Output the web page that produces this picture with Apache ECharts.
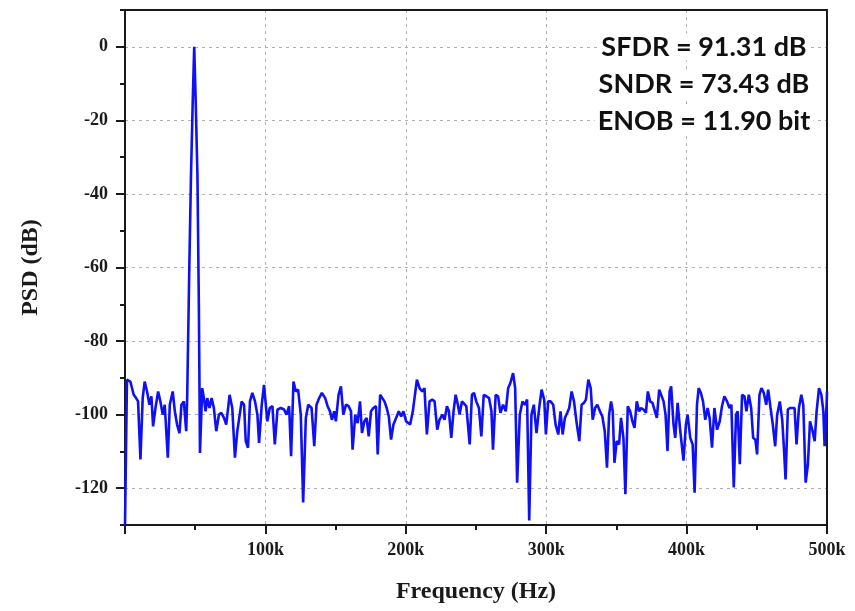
<!DOCTYPE html>
<html>
<head>
<meta charset="utf-8">
<script src="https://cdn.jsdelivr.net/npm/echarts@6/dist/echarts.min.js"></script>
<style>
html,body{margin:0;padding:0;background:#fff;}
#c{width:855px;height:611px;}
</style>
</head>
<body>
<div id="c"></div>
<script>
// Frequency in kHz
const freqK = [
0,1.4,3.8,6.2,7.9,9.3,11.0,12.6,14.0,15.7,17.4,18.8,20.0,21.7,23.6,25.2,26.9,28.3,30.5,31.9,34.0,35.5,37.1,38.8,40.2,41.9,43.6,
44.3,45.8,47.0,48.3,49.3,50.3,51.6,52.6,53.4,
55.0,56.2,57.4,58.6,60.2,61.7,63.3,65.0,66.9,68.6,70.5,72.1,74.5,76.4,78.3,80.0,81.7,83.1,84.8,86.0,87.6,89.0,90.7,92.6,94.3,95.5,97.4,99.0,
101.4,103.1,105.0,106.7,108.6,111.0,113.3,115.0,116.9,118.3,120.0,121.7,123.3,125.2,126.9,128.8,130.5,132.9,134.8,136.4,138.3,140.2,142.6,144.3,146.0,147.4,149.0,150.2,152.1,153.8,155.5,157.4,159.3,161.0,162.1,164.0,165.7,167.4,168.8,170.5,172.1,173.6,175.2,176.9,178.8,180.0,181.7,183.1,184.8,186.4,187.9,189.5,191.2,193.1,195.0,196.7,198.3,200.2,
203.1,205.0,207.9,209.8,211.7,213.3,215.0,216.9,218.8,220.5,222.4,224.0,226.0,227.6,229.3,230.7,232.4,234.0,235.5,237.1,238.3,240.0,241.4,243.1,245.5,247.1,248.6,250.2,252.1,253.8,255.5,257.4,259.3,261.0,262.1,264.0,265.7,267.4,269.3,271.2,272.9,274.5,276.4,277.9,279.3,281.2,283.1,284.8,286.4,287.9,289.5,291.2,293.1,295.0,296.7,298.6,
299.8,301.4,303.1,305.0,306.7,308.6,310.2,311.7,313.3,315.0,316.4,318.1,319.8,321.7,323.6,325.2,326.9,328.3,330.0,331.7,333.1,334.8,336.4,338.3,340.0,341.7,343.3,344.8,346.2,347.4,348.6,350.2,351.9,353.3,355.0,356.4,358.1,359.8,361.4,362.9,364.5,366.2,367.6,369.3,371.0,372.4,374.0,375.7,377.1,378.8,380.5,381.7,383.6,385.0,386.4,387.9,389.0,390.7,391.9,393.6,395.5,397.8,399.5,
400.7,402.6,404.3,405.7,407.4,408.6,410.2,411.7,413.3,415.0,416.4,418.1,419.8,421.7,423.6,425.2,426.9,428.8,430.5,431.9,433.6,435.2,436.4,437.9,439.5,441.2,442.6,444.3,446.0,447.4,449.0,450.2,451.9,453.3,455.0,456.7,458.1,459.8,461.4,463.1,464.5,466.4,468.1,469.3,470.5,472.1,473.6,475.2,476.9,478.3,480.0,481.7,483.1,484.8,486.4,487.9,489.5,491.2,492.6,494.3,496.0,497.4,498.3,499.8,500
];
// PSD in dB
const psdDb = [
-130,-90.5,-91.0,-94.6,-95.5,-96.4,-112.2,-95.5,-91.0,-93.7,-97.3,-95.0,-103.2,-98.2,-93.7,-96.4,-100,-97.3,-111.7,-97.3,-93.7,-99.1,-102.7,-105.0,-97.3,-96.4,-104.5,
-95,-60,-35,-14,0,-14,-35,-70,-110.4,
-92.8,-95.5,-99.1,-95.5,-98.2,-95.5,-98.2,-104.5,-100,-99.5,-100.9,-102.7,-94.6,-98.2,-111.7,-104.5,-100,-96.4,-97.3,-107.2,-109.0,-96.4,-94.1,-96.4,-100,-107.7,-97.3,-91.9,
-101.8,-98.2,-97.7,-108.1,-98.6,-98.2,-98.6,-100,-97.7,-111.3,-91.0,-93.7,-93.2,-100,-123.9,-100.9,-97.3,-98.2,-108.6,-97.3,-95.5,-94.1,-95.5,-97.7,-99.1,-101.4,-99.1,-101.8,-94.6,-92.3,-100,-97.3,-97.7,-99.1,-109.5,-100,-102.3,-96.4,-105.0,-101.8,-100.9,-105.9,-99.1,-98.2,-97.7,-110.8,-94.6,-94.6,-96.4,-98.2,-100.5,-106.8,-102.7,-100.9,-99.1,-100.5,-99.1,-101.8,
-102.7,-99.1,-90.5,-92.8,-93.7,-92.8,-105.4,-96.4,-95.9,-96.4,-104.1,-101.4,-100,-101.4,-97.7,-99.1,-106.3,-99.1,-94.6,-97.3,-100,-96.4,-96.8,-97.7,-108.1,-94.6,-94.1,-96.4,-98.2,-105.9,-94.6,-95.0,-95.5,-99.1,-109.5,-94.6,-95.0,-99.5,-97.3,-99.1,-92.8,-91.4,-88.7,-92.8,-118.5,-100,-96.4,-97.3,-95.9,-128.8,-100,-97.3,-105.0,-98.2,-93.2,-96.0,
-105.4,-96.4,-96.4,-97.3,-102.7,-105.4,-99.1,-105.4,-100.9,-99.5,-98.2,-93.7,-96.4,-102.3,-107.2,-97.3,-96.8,-95.9,-90.5,-92.8,-101.4,-98.2,-97.3,-99.1,-100.5,-104.5,-114.4,-100,-96.4,-99.1,-113.1,-107.2,-108.1,-100.9,-106.3,-121.6,-97.7,-99.1,-101.8,-103.6,-96.4,-99.1,-98.2,-98.6,-99.5,-93.7,-96.4,-96.8,-97.3,-100.9,-93.2,-92.8,-96.4,-100,-109.9,-93.7,-92.3,-102.7,-106.3,-96.8,-104.5,-112.5,-102.7,
-100,-106.3,-108.1,-121.2,-97.3,-92.8,-94.1,-96.4,-101.4,-98.2,-100.9,-109.0,-98.2,-104.1,-101.8,-97.7,-95.0,-96.4,-98.2,-97.3,-119.8,-100,-99.1,-113.5,-94.6,-95.0,-99.1,-94.6,-98.2,-106.3,-106.8,-110.8,-94.6,-92.8,-94.1,-97.3,-93.2,-98.2,-102.7,-108.6,-100,-96.4,-101.4,-109.0,-117.6,-98.6,-98.2,-98.2,-98.2,-108.1,-98.2,-94.6,-97.3,-118.5,-113.5,-101.8,-104.1,-107.2,-99.1,-92.8,-94.6,-99.1,-108.6,-96.4,-93.7
];
const xTickUnit = 'k';
const yMajorTicks = [-120,-100,-80,-60,-40,-20,0];
const infoLines = ['SFDR = 91.31 dB','SNDR = 73.43 dB','ENOB = 11.90 bit'];

const chart = echarts.init(document.getElementById('c'), null, {renderer:'canvas'});
const seriesData = freqK.map((f,i)=>[f, psdDb[i]]);
const serifFont = '"Liberation Serif","Times New Roman",serif';
const ink = '#1a1a1a';
const gridLine = {show:true, lineStyle:{color:'#b0b0b0', type:[3,4], width:1}};
const frameAxis = {axisLine:{show:true, onZero:false, lineStyle:{color:ink, width:2}}, axisTick:{show:false}, axisLabel:{show:false}, splitLine:{show:false}};

chart.setOption({
  animation:false,
  backgroundColor:'#fff',
  grid:{left:125, right:28, top:10, bottom:86, show:false},
  xAxis:[{
    type:'value', min:0, max:500, interval:100, position:'bottom',
    name:'Frequency (Hz)', nameLocation:'middle', nameGap:55,
    nameTextStyle:{fontFamily:serifFont, fontWeight:'bold', fontSize:24, color:ink},
    axisLine:{show:true, onZero:false, lineStyle:{color:ink, width:2}},
    axisTick:{show:true, inside:false, length:9, lineStyle:{color:ink, width:2}},
    minorTick:{show:true, splitNumber:2, length:5, lineStyle:{color:ink, width:2}},
    axisLabel:{margin:16, fontFamily:serifFont, fontWeight:'bold', fontSize:18, color:ink,
      formatter:v=> v===0 ? '' : (v + xTickUnit)},
    splitLine:gridLine,
    minorSplitLine:{show:false}
  },
  Object.assign({type:'value', min:0, max:500, position:'top'}, frameAxis)
  ],
  yAxis:[{
    type:'value', min:-130, max:10, interval:20, position:'left',
    name:'PSD (dB)', nameLocation:'middle', nameGap:82, nameRotate:90,
    nameTextStyle:{fontFamily:serifFont, fontWeight:'bold', fontSize:24, color:ink},
    axisLine:{show:true, onZero:false, lineStyle:{color:ink, width:2}},
    axisTick:{show:true, inside:false, length:9, customValues:yMajorTicks, lineStyle:{color:ink, width:2}},
    axisLabel:{margin:17, customValues:yMajorTicks, fontFamily:serifFont, fontWeight:'bold', fontSize:18, color:ink},
    splitLine:gridLine
  },{
    type:'value', min:-130, max:10, interval:20, position:'left',
    axisLine:{show:false, onZero:false},
    axisTick:{show:true, inside:false, length:5, lineStyle:{color:ink, width:2}},
    axisLabel:{show:false},
    splitLine:{show:false}
  },
  Object.assign({type:'value', min:-130, max:10, position:'right'}, frameAxis)
  ],
  graphic: infoLines.map((t,i)=>({
    type:'text', x:704, y:47 + i*37, z:100,
    style:{text:t, x:0, y:0, align:'center', verticalAlign:'middle',
      font:'bold 27px Lato, "Open Sans", sans-serif', fill:'#111',
      backgroundColor:'#fff', padding:[0,3]}
  })),
  series:[{
    type:'line', xAxisIndex:0, yAxisIndex:0, data:seriesData,
    showSymbol:false, symbol:'none', clip:true,
    lineStyle:{color:'#1010f5', width:2.6},
    z:5
  }]
});
</script>
</body>
</html>
